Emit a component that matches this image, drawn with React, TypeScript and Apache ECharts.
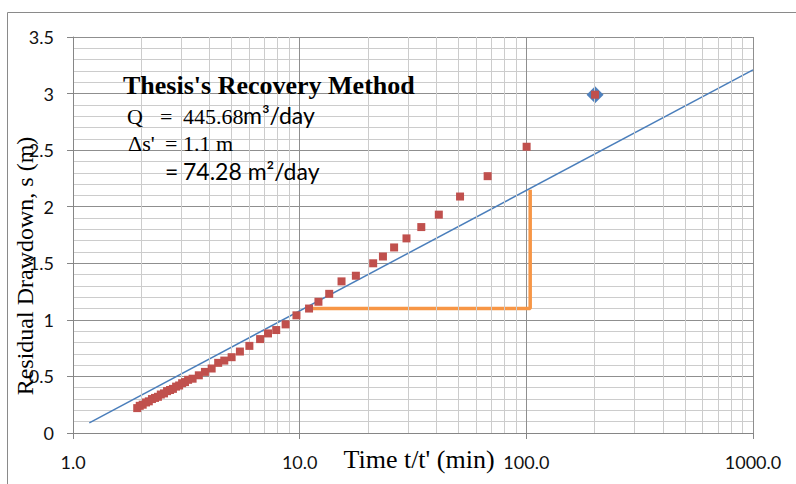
import React, { useEffect, useRef } from "react";
import * as echarts from "echarts";

// Recovery data: t/t' (min) and residual drawdown s (m)
const timeRatio = [
  1.92, 1.97, 2.03, 2.1, 2.16, 2.23, 2.3, 2.37, 2.44, 2.52, 2.6, 2.68, 2.76, 2.85, 2.94, 3.03, 3.12, 3.22,
  3.37, 3.59, 3.82, 4.09, 4.37, 4.65, 5.01, 5.45, 6.0, 6.69, 7.25, 7.88, 8.67, 9.68,
  11.0, 12.1, 13.5, 15.3, 17.7, 21.1, 23.3, 26.1, 29.6, 34.4, 41.1, 51.0, 67.5, 100.3, 201,
];
const residualDrawdown = [
  0.22, 0.24, 0.25, 0.27, 0.28, 0.3, 0.31, 0.32, 0.34, 0.35, 0.37, 0.38, 0.39, 0.41, 0.42, 0.44, 0.45, 0.47,
  0.48, 0.51, 0.54, 0.57, 0.62, 0.64, 0.67, 0.72, 0.77, 0.83, 0.88, 0.91, 0.96, 1.04,
  1.1, 1.16, 1.23, 1.34, 1.39, 1.5, 1.56, 1.64, 1.72, 1.82, 1.93, 2.09, 2.27, 2.53, 2.99,
];
// Highlighted (diamond) point
const highlightTime = [201];
const highlightDrawdown = [2.99];
// Fitted straight line
const fitTime = [1.18, 1000];
const fitDrawdown = [0.09, 3.21];
// Δs' construction (orange)
const deltaTime = [10.7, 104, 104];
const deltaDrawdown = [1.1, 1.1, 2.15];
// Axis tick labels
const xTickLabels = ["1.0", "10.0", "100.0", "1000.0"];
const yTickLabels = ["0", "0.5", "1", "1.5", "2", "2.5", "3", "3.5"];
const xMinorGrid = [2, 3, 4, 5, 6, 7, 8, 9, 20, 30, 40, 50, 60, 70, 80, 90, 200, 300, 400, 500, 600, 700, 800, 900];

const serif = "'Liberation Serif', 'Times New Roman', serif";
const sans = "Lato, 'Open Sans', sans-serif";

export default function App() {
  const ref = useRef<HTMLDivElement>(null);
  useEffect(() => {
    if (!ref.current) return;
    const chart = echarts.init(ref.current, null, { renderer: "svg" });
    const pts = timeRatio.map((t, i) => [t, residualDrawdown[i]]);
    const hi = highlightTime.map((t, i) => [t, highlightDrawdown[i]]);
    const fit = fitTime.map((t, i) => [t, fitDrawdown[i]]);
    const delta = deltaTime.map((t, i) => [t, deltaDrawdown[i]]);
    const txt = (text: string, x: number, y: number, font: string, size: number, weight = "normal", extra: any = {}) => ({
      type: "text",
      x,
      y,
      silent: true,
      z: 100,
      ...extra,
      style: {
        text,
        fill: "#000",
        font: `${weight} ${size}px ${font}`,
        align: "left",
        verticalAlign: "middle",
        ...(extra.style || {}),
      },
    });
    chart.setOption({
      animation: false,
      backgroundColor: "#fff",
      grid: { left: 73, right: 43, top: 37, bottom: 51, containLabel: false },
      xAxis: {
        type: "log",
        logBase: 10,
        min: 1,
        max: 1000,
        axisLine: { show: true, lineStyle: { color: "#868686", width: 1 } },
        axisTick: { show: true, length: 6, inside: false, lineStyle: { color: "#868686" } },
        axisLabel: {
          margin: 20,
          color: "#111",
          fontFamily: sans,
          fontSize: 18,
          formatter: (v: number) => xTickLabels[Math.round(Math.log10(v))] ?? "",
        },
        splitLine: { show: true, lineStyle: { color: "#8f8f8f", width: 1 } },
      },
      yAxis: {
        type: "value",
        min: 0,
        max: 3.5,
        interval: 0.5,
        axisLine: { show: true, lineStyle: { color: "#868686", width: 1 } },
        axisTick: { show: true, length: 6, inside: false, lineStyle: { color: "#868686" } },
        minorTick: { show: false, splitNumber: 5 },
        minorSplitLine: { show: true, lineStyle: { color: "#cccccc", width: 1 } },
        splitLine: { show: true, lineStyle: { color: "#8f8f8f", width: 1 } },
        axisLabel: {
          margin: 19,
          color: "#111",
          fontFamily: sans,
          fontSize: 18,
          formatter: (v: number) => yTickLabels[Math.round(v / 0.5)] ?? "",
        },
      },
      series: [
        {
          type: "line",
          data: [],
          z: 1,
          silent: true,
          markLine: {
            silent: true,
            symbol: ["none", "none"],
            label: { show: false },
            lineStyle: { color: "#cccccc", type: "solid", width: 1 },
            data: xMinorGrid.map((v) => ({ xAxis: v })),
          },
        },
        {
          type: "line",
          data: delta,
          z: 2,
          symbol: "none",
          lineStyle: { color: "#f79646", width: 3.5 },
        },
        {
          type: "line",
          data: fit,
          z: 3,
          symbol: "none",
          lineStyle: { color: "#4a7ebb", width: 1.5 },
        },
        {
          type: "scatter",
          data: hi,
          z: 4,
          symbol: "diamond",
          symbolSize: 17,
          itemStyle: { color: "#4f81bd", opacity: 1 },
        },
        {
          type: "scatter",
          data: pts,
          z: 5,
          symbol: "rect",
          symbolSize: 8,
          itemStyle: { color: "#c0504d", opacity: 1 },
        },
      ],
      graphic: [
        {
          type: "rect",
          silent: true,
          shape: { x: 7.5, y: 12.5, width: 900, height: 600 },
          style: { fill: "none", stroke: "#8a8a8a", lineWidth: 1 },
        },
        txt("Thesis's Recovery Method", 123, 85, serif, 26, "bold"),
        txt("Q", 127, 116, serif, 22),
        txt("=", 160, 116, serif, 22),
        txt("445.68", 183, 116, serif, 22),
        txt("m³/day", 243, 115, sans, 23),
        txt("Δs'", 128, 143, serif, 22),
        txt("=", 165, 143, serif, 22),
        txt("1.1 m", 183, 143, serif, 22),
        txt("=", 165, 171, sans, 23),
        txt("74.28 m²/day", 183, 171, sans, 23),
        txt("Time t/t' (min)", 419, 459, serif, 26, "normal", { style: { align: "center" } }),
        txt("Residual Drawdown, s (m)", 25, 266, serif, 24, "normal", {
          rotation: Math.PI / 2,
          style: { align: "center" },
        }),
      ],
    });
    return () => chart.dispose();
  }, []);
  return (
    <div
      ref={ref}
      style={{ position: "fixed", left: 0, top: 0, width: 796, height: 484, background: "#fff" }}
    />
  );
}
